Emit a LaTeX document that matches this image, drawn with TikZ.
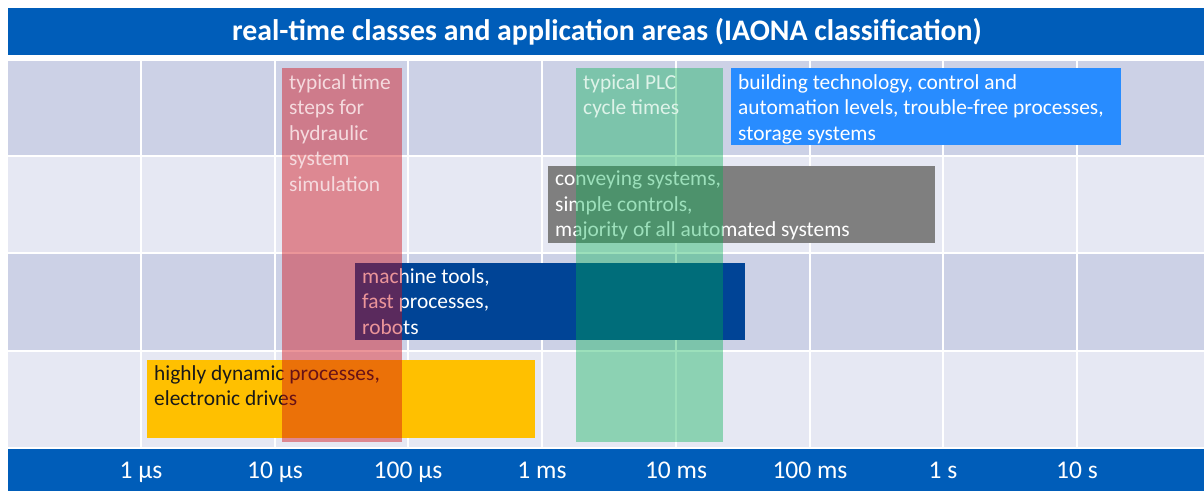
\documentclass[tikz,border=0pt]{standalone}
\usepackage{fontspec}
\setmainfont{Carlito}
\usetikzlibrary{positioning}

\definecolor{barblue}{RGB}{0,93,185}
\definecolor{banddark}{RGB}{204,209,230}
\definecolor{bandlight}{RGB}{230,232,243}
\definecolor{boxgray}{RGB}{127,127,127}
\definecolor{boxblue}{RGB}{0,68,150}
\definecolor{boxsky}{RGB}{40,140,255}
\definecolor{boxyellow}{RGB}{255,192,0}
\definecolor{boxred}{RGB}{210,10,20}
\definecolor{boxgreen}{RGB}{0,176,80}
\definecolor{redtext}{RGB}{245,218,222}
\definecolor{greentext}{RGB}{222,243,233}

\begin{document}
\begin{tikzpicture}[x=1pt,y=-1pt,
	area/.style={anchor=north west,inner sep=0pt,draw=none},
	txt/.style={align=left,inner sep=0pt,font=\fontsize{21.4}{25.5}\selectfont,execute at begin node=\strut},
	tick/.style={anchor=base,text=white,font=\fontsize{25.5}{30}\selectfont},
	gridline/.style={white,line width=2pt}]
	\useasboundingbox[fill=white] (0,0) rectangle (1204,491);

	% title and time axis bars
	\fill[barblue] (8,8) rectangle (1204,55);
	\node[text=white,font=\bfseries\fontsize{29.8}{34}\selectfont] (title) at (607,31.5) {real-time classes and application areas (IAONA classification)};
	\fill[barblue] (8,449) rectangle (1204,491);

	% bands
	\fill[banddark] (8,61) rectangle (1204,155);
	\fill[bandlight] (8,157) rectangle (1204,252);
	\fill[banddark] (8,254) rectangle (1204,350);
	\fill[bandlight] (8,352) rectangle (1204,447);

	\draw[gridline] (141,61) -- (141,447);
	\draw[gridline] (275,61) -- (275,447);
	\draw[gridline] (408,61) -- (408,447);
	\draw[gridline] (542,61) -- (542,447);
	\draw[gridline] (676,61) -- (676,447);
	\draw[gridline] (810,61) -- (810,447);
	\draw[gridline] (943,61) -- (943,447);
	\draw[gridline] (1077,61) -- (1077,447);

	\node[tick] (t1us) at (141,478) {1 µs};
	\node[tick] (t10us) at (275,478) {10 µs};
	\node[tick] (t100us) at (408,478) {100 µs};
	\node[tick] (t1ms) at (542,478) {1 ms};
	\node[tick] (t10ms) at (676,478) {10 ms};
	\node[tick] (t100ms) at (810,478) {100 ms};
	\node[tick] (t1s) at (943,478) {1 s};
	\node[tick] (t10s) at (1077,478) {10 s};

	% application areas
	\node[area,fill=boxsky,minimum width=390pt,minimum height=77pt] (bldg) at (731,68) {};
	\node[txt,text=white,below right=6pt and 7pt of bldg.north west] (bldgtxt) {building technology, control and\\automation levels, trouble-free processes,\\storage systems};

	\node[area,fill=boxgray,minimum width=387pt,minimum height=77pt] (conv) at (548,166) {};
	\node[txt,text=white,below right=5pt and 7pt of conv.north west] (convtxt) {conveying systems,\\simple controls,\\majority of all automated systems};

	\node[area,fill=boxblue,minimum width=390pt,minimum height=77pt] (mach) at (355,263) {};
	\node[txt,text=white,below right=5pt and 7pt of mach.north west] (machtxt) {machine tools,\\fast processes,\\robots};

	\node[area,fill=boxyellow,minimum width=388pt,minimum height=78pt] (drive) at (147,360) {};
	\node[txt,text=black!90,below right=5pt and 7pt of drive.north west] (drivetxt) {highly dynamic processes,\\electronic drives};

	% typical time steps
	\node[area,fill=boxred,fill opacity=0.43,minimum width=120pt,minimum height=374pt] (hydr) at (282,68) {};
	\node[txt,text=redtext,below right=6pt and 7pt of hydr.north west] (hydrtxt) {typical time\\steps for\\hydraulic\\system\\simulation};

	\node[area,fill=boxgreen,fill opacity=0.39,minimum width=147pt,minimum height=374pt] (plc) at (576,68) {};
	\node[txt,text=greentext,below right=6pt and 7pt of plc.north west] (plctxt) {typical PLC\\cycle times};
\end{tikzpicture}
\end{document}
